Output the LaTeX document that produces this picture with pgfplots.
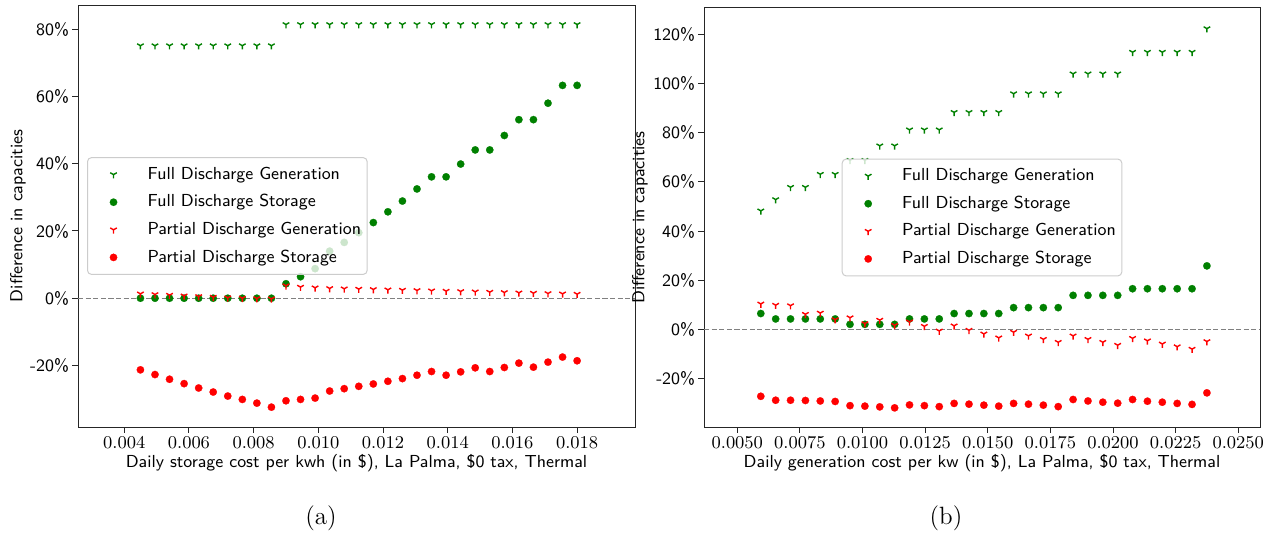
\documentclass[border=0pt]{standalone}
\usepackage{fontspec}
\usepackage{pgfplots}
\usepackage{pgfplotstable}
\pgfplotsset{compat=1.18}
\usetikzlibrary{plotmarks}
\definecolor{mgreen}{rgb}{0,0.5,0}
\definecolor{mred}{rgb}{1,0,0}

\pgfplotstableread{
x fdg fds pdg pds
0.0045 75.1 0 1.3 -21.3
0.00495 75.1 0 1.1 -22.7
0.0054 75.1 0 0.9 -24.1
0.00585 75.1 0 0.7 -25.4
0.0063 75.1 0 0.5 -26.7
0.00675 75.1 0 0.3 -27.9
0.0072 75.1 0 0.1 -29.1
0.00765 75.1 0 0.0 -30.1
0.0081 75.1 0 -0.1 -31.2
0.00855 75.1 0 -0.2 -32.4
0.009 81.4 4.3 3.7 -30.5
0.00945 81.4 6.4 3.3 -30.1
0.0099 81.4 8.8 3.1 -29.7
0.01035 81.4 14.0 2.9 -27.6
0.0108 81.4 16.6 2.8 -26.9
0.01125 81.4 19.5 2.7 -26.2
0.0117 81.4 22.5 2.6 -25.5
0.01215 81.4 25.7 2.5 -24.7
0.0126 81.4 28.9 2.4 -23.9
0.01305 81.4 32.5 2.3 -22.9
0.0135 81.4 36.1 2.2 -21.8
0.01395 81.4 36.1 2.1 -22.9
0.0144 81.4 39.9 2.0 -21.9
0.01485 81.4 44.1 1.9 -20.7
0.0153 81.4 44.1 1.8 -21.8
0.01575 81.4 48.4 1.7 -20.6
0.0162 81.4 53.1 1.6 -19.3
0.01665 81.4 53.1 1.5 -20.5
0.0171 81.4 58.0 1.4 -19.0
0.01755 81.4 63.3 1.3 -17.5
0.018 81.4 63.3 1.2 -18.6
}\lefttab

\pgfplotstableread{
x fdg fds pdg pds
0.0059375 48.2 6.4 10.3 -27.3
0.00653125 52.8 4.2 9.8 -28.9
0.007125 57.8 4.2 9.6 -28.9
0.00771875 57.8 4.2 6.1 -29.0
0.0083125 63.1 4.2 6.6 -29.2
0.00890625 63.1 4.2 3.9 -29.4
0.0095 68.8 2.0 4.7 -31.1
0.01009375 68.8 2.0 2.3 -31.3
0.0106875 74.7 2.0 3.7 -31.6
0.01128125 74.7 2.0 1.6 -32.0
0.011875 81.2 4.2 3.0 -30.8
0.01246875 81.2 4.2 1.2 -31.1
0.0130625 81.2 4.2 -0.7 -31.5
0.01365625 88.3 6.4 1.4 -30.2
0.01425 88.3 6.4 -0.4 -30.5
0.01484375 88.3 6.4 -1.9 -30.9
0.0154375 88.3 6.4 -3.5 -31.3
0.01603125 95.9 8.8 -1.2 -30.2
0.016625 95.9 8.8 -2.7 -30.5
0.01721875 95.9 8.8 -4.1 -30.9
0.0178125 95.9 8.8 -5.3 -31.5
0.01840625 104.0 13.8 -2.7 -28.6
0.019 104.0 13.8 -4.1 -29.2
0.01959375 104.0 13.8 -5.3 -29.7
0.0201875 104.0 13.8 -6.5 -30.1
0.02078125 112.8 16.5 -3.7 -28.6
0.021375 112.8 16.5 -4.7 -29.3
0.02196875 112.8 16.5 -6.0 -29.7
0.0225625 112.8 16.5 -7.1 -30.2
0.02315625 112.8 16.5 -8.1 -30.6
0.02375 122.4 25.8 -5.0 -25.9
}\righttab

\newcommand{\fs}{\fontsize{8.7}{10.4}\selectfont}

\pgfplotsset{
  myaxis/.style={
    scale only axis,
    scaled x ticks=false,
    axis line style={black!85, line width=0.5pt},
    tick style={black!85, line width=0.5pt},
    tick align=outside,
    major tick length=2.8pt,
    xtick pos=bottom, ytick pos=left,
    yticklabel style={font=\fs\sffamily, inner xsep=1.5pt},
    xticklabel style={font=\fs, inner ysep=2pt},
    xlabel style={font=\fs\sffamily, anchor=center},
    ylabel style={font=\fs\sffamily, anchor=center},
    legend cell align=left,
    legend style={draw=black!20, line width=0.5pt, rounded corners=2pt,
      fill=white, fill opacity=0.8, draw opacity=1, text opacity=1,
      inner xsep=3pt, inner ysep=1.6pt, row sep=0pt, font=\fs\sffamily,
      nodes={inner xsep=0pt, inner ysep=0pt, minimum height=13.8pt}},
    legend image code/.code={%
      \path[draw=none, fill=none] (0pt,0pt) (27pt,0pt);
      \draw[opacity=1, only marks, mark repeat=2, mark phase=2] plot coordinates {(0pt,0pt)(10pt,0pt)(20pt,0pt)};},
  },
  fdg/.style={only marks, mark=Mercedes star flipped, mark size=1.9pt, color=mgreen, mark options={line width=0.7pt}},
  fds/.style={only marks, mark=*, mark size=1.85pt, color=mgreen, mark options={fill=mgreen, draw=mgreen, line width=0.1pt}},
  pdg/.style={only marks, mark=Mercedes star flipped, mark size=1.9pt, color=mred, mark options={line width=0.7pt}},
  pds/.style={only marks, mark=*, mark size=1.85pt, color=mred, mark options={fill=mred, draw=mred, line width=0.1pt}},
  zeroline/.style={forget plot, black!50, line width=0.45pt, dash pattern=on 2.6pt off 1.2pt},
}

\begin{document}
\begin{tikzpicture}
\useasboundingbox (0,0) rectangle (633.5pt,268pt);

\begin{axis}[myaxis,
  at={(39pt,54.5pt)}, anchor=south west,
  width=278.5pt, height=211pt,
  xmin=0.00257, xmax=0.01979, ymin=-38.3, ymax=87.2,
  xtick={0.004,0.006,0.008,0.010,0.012,0.014,0.016,0.018},
  xticklabels={$0.004$,$0.006$,$0.008$,$0.010$,$0.012$,$0.014$,$0.016$,$0.018$},
  ytick={-20,0,20,40,60,80},
  yticklabels={-20\%,0\%,20\%,40\%,60\%,80\%},
  xlabel={Daily storage cost per kwh (in \$), La Palma, \$0 tax, Thermal},
  ylabel={Difference in capacities},
  xlabel style={at={(axis description cs:0.5,-0.0853)}},
  ylabel style={at={(axis description cs:-0.1077,0.5)}},
  legend style={at={(0.0162,0.5)}, anchor=west},
]
\addplot[zeroline] coordinates {(0.00257,0) (0.01979,0)};
\addplot[fdg] table[x=x,y=fdg] {\lefttab};
\addplot[fds] table[x=x,y=fds] {\lefttab};
\addplot[pdg] table[x=x,y=pdg] {\lefttab};
\addplot[pds] table[x=x,y=pds] {\lefttab};
\legend{Full Discharge Generation, Full Discharge Storage, Partial Discharge Generation, Partial Discharge Storage}
\end{axis}

\begin{axis}[myaxis,
  at={(352pt,54.5pt)}, anchor=south west,
  width=278pt, height=209.5pt,
  xmin=0.00367, xmax=0.02587, ymin=-39.8, ymax=130.8,
  xtick={0.005,0.0075,0.01,0.0125,0.015,0.0175,0.02,0.0225,0.025},
  xticklabels={$0.0050$,$0.0075$,$0.0100$,$0.0125$,$0.0150$,$0.0175$,$0.0200$,$0.0225$,$0.0250$},
  ytick={-20,0,20,40,60,80,100,120},
  yticklabels={-20\%,0\%,20\%,40\%,60\%,80\%,100\%,120\%},
  xlabel={Daily generation cost per kw (in \$), La Palma, \$0 tax, Thermal},
  ylabel={Difference in capacities},
  xlabel style={at={(axis description cs:0.5,-0.0859)}},
  ylabel style={at={(axis description cs:-0.1151,0.5)}},
  legend style={at={(0.5,0.5)}, anchor=center},
]
\addplot[zeroline] coordinates {(0.00367,0) (0.02587,0)};
\addplot[fdg] table[x=x,y=fdg] {\righttab};
\addplot[fds] table[x=x,y=fds] {\righttab};
\addplot[pdg] table[x=x,y=pdg] {\righttab};
\addplot[pds] table[x=x,y=pds] {\righttab};
\legend{Full Discharge Generation, Full Discharge Storage, Partial Discharge Generation, Partial Discharge Storage}
\end{axis}

\node[font=\fontsize{12.5}{15}\selectfont] at (160.5pt,9pt) {(a)};
\node[font=\fontsize{12.5}{15}\selectfont] at (473pt,9pt) {(b)};
\end{tikzpicture}
\end{document}
